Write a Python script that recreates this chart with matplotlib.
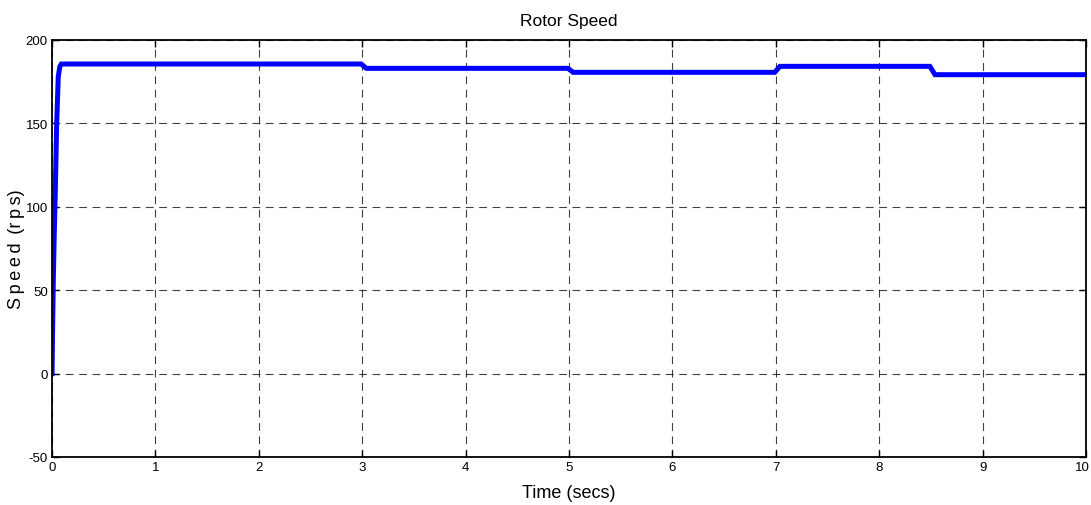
import matplotlib
matplotlib.use("Agg")
import matplotlib.pyplot as plt
import matplotlib.transforms as mtransforms

# Data (rotor speed in rps vs time in s)
time_s = [0.0, 0.005, 0.012, 0.02, 0.03, 0.045, 0.06, 0.075, 0.09,
          2.99, 3.04, 4.99, 5.04, 6.99, 7.04, 8.49, 8.54, 10.0]
speed_rps = [0.0, 25.0, 55.0, 80.0, 105.0, 150.0, 178.0, 184.0, 185.6,
             185.6, 183.0, 183.0, 180.6, 180.6, 184.2, 184.2, 179.2, 179.2]

x_ticks = [0, 1, 2, 3, 4, 5, 6, 7, 8, 9, 10]
y_ticks = [-50, 0, 50, 100, 150, 200]

fam = ['Liberation Sans Narrow', 'Liberation Sans', 'DejaVu Sans']
plt.rcParams['font.family'] = fam

fig = plt.figure(figsize=(10.91, 5.06), dpi=100)
ax = fig.add_axes([0.0477, 0.0949, 0.9477, 0.8241])

ax.plot(time_s, speed_rps, color='#0000ff', linewidth=3.6, solid_joinstyle='miter')

ax.set_xlim(0, 10)
ax.set_ylim(-50, 200)
ax.set_xticks(x_ticks)
ax.set_yticks(y_ticks)
ax.set_xticklabels([str(v) for v in x_ticks])
ax.set_yticklabels([str(v) for v in y_ticks])
ax.tick_params(direction='in', length=5, width=1, labelsize=9.5, pad=3,
               top=True, right=True, colors='black')
ax.grid(True, color='black', linestyle=(0, (7, 5)), linewidth=0.8, alpha=0.75)
for s in ax.spines.values():
    s.set_linewidth(1.3)
    s.set_color('black')

# nudge the last x tick label so it stays inside the figure
last = ax.get_xticklabels()[-1]
last.set_transform(last.get_transform() +
                   mtransforms.ScaledTranslation(-4 / 100, 0, fig.dpi_scale_trans))

ax.set_title('Rotor Speed', fontsize=12.5, pad=11)
ax.set_xlabel('Time (secs)', fontsize=13, labelpad=7.5)
ax.set_ylabel('S\u2009p\u2009e\u2009e\u2009d\u2009 (r\u2009p\u2009s)', fontsize=13)
ax.yaxis.set_label_coords(-0.026, 0.5)

fig.savefig('out.png', dpi=100)
